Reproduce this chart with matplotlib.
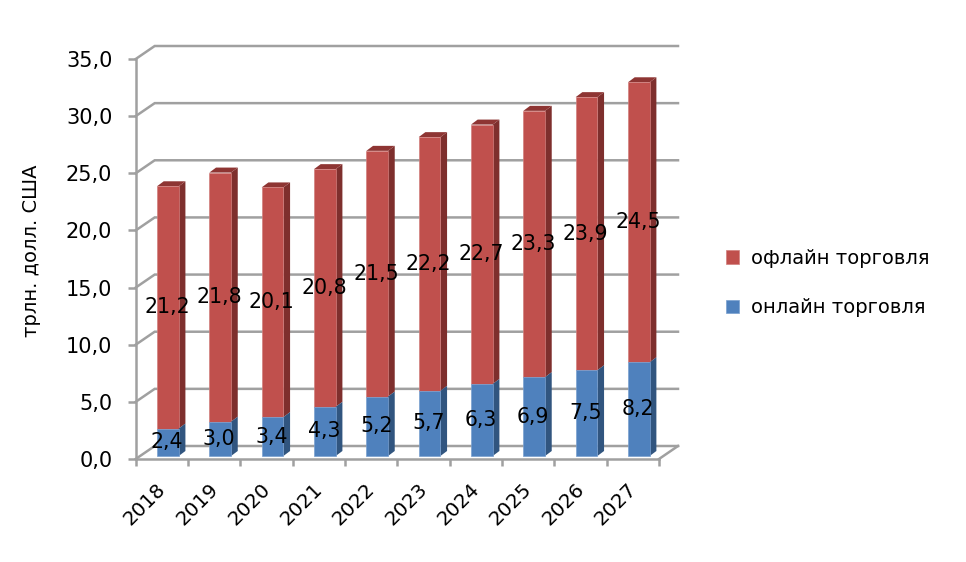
import matplotlib
matplotlib.use("Agg")
import matplotlib.pyplot as plt
from matplotlib.patches import Polygon, Patch
from matplotlib.ticker import FuncFormatter
from matplotlib.transforms import ScaledTranslation

years = ["2018", "2019", "2020", "2021", "2022", "2023", "2024", "2025", "2026", "2027"]
online = [2.4, 3.0, 3.4, 4.3, 5.2, 5.7, 6.3, 6.9, 7.5, 8.2]
offline = [21.2, 21.8, 20.1, 20.8, 21.5, 22.2, 22.7, 23.3, 23.9, 24.5]
y_ticks = [0, 5, 10, 15, 20, 25, 30, 35]
series_names = ["офлайн торговля", "онлайн торговля"]
ylabel_text = "трлн. долл. США"

W, H = 966, 562
L, R, T, B = 135.7, 659.0, 59.0, 459.0
GRID = "#A0A0A0"
RED = ("#C0504D", "#7E2F2D", "#8E3533", "#D27F7D")
BLUE = ("#4F81BD", "#31557F", "#3D6796", "#79A0D0")

plt.rcParams["font.family"] = "DejaVu Sans"
fig = plt.figure(figsize=(W / 100, H / 100), dpi=100)
ax = fig.add_axes([L / W, 1 - B / H, (R - L) / W, (B - T) / H])
ax.set_xlim(0, len(years))
ax.set_ylim(0, 35)

px_x = len(years) / (R - L)
px_y = 35 / (B - T)
DX, DY = 19 * px_x, 13 * px_y       # wall depth
SX, SY = 6 * px_x, 3 * px_y         # bar shift inside the depth
BDX, BDY = 6.7 * px_x, 5 * px_y     # bar depth
BW = 21.7 * px_x

# walls and gridlines
for v in y_ticks:
    ax.plot([0, DX, len(years) + DX], [v, v + DY, v + DY], color=GRID, lw=1.8,
            clip_on=False, zorder=1, solid_joinstyle="miter")
ax.plot([len(years), len(years) + DX], [0, DY], color=GRID, lw=1.8, clip_on=False, zorder=1)


def draw_bar(x, y0, h, cols, z, top=True):
    x0 = x - BW / 2 + SX
    x1 = x + BW / 2 + SX
    b0 = y0 + SY
    b1 = y0 + h + SY
    ax.add_patch(Polygon([(x1, b0), (x1 + BDX, b0 + BDY), (x1 + BDX, b1 + BDY), (x1, b1)],
                         closed=True, fc=cols[1], ec="none", clip_on=False, zorder=z))
    if top:
        ax.add_patch(Polygon([(x0, b1), (x1, b1), (x1 + BDX, b1 + BDY), (x0 + BDX, b1 + BDY)],
                             closed=True, fc=cols[2], ec="none", clip_on=False, zorder=z))
    ax.bar(x + SX, h, BW, bottom=b0, color=cols[0], edgecolor=cols[3], linewidth=0.5,
           clip_on=False, zorder=z + 0.1)


for i, (a, b) in enumerate(zip(online, offline)):
    xc = i + 0.5
    draw_bar(xc, a, b, RED, 3)
    draw_bar(xc, 0, a, BLUE, 3.5, top=False)
    ax.text(xc + SX - 1 * px_x, SY + a / 2, f"{a:.1f}".replace(".", ","), ha="center",
            va="center", fontsize=14.8, zorder=6)
    ax.text(xc + SX - 1 * px_x, SY + a + b / 2, f"{b:.1f}".replace(".", ","), ha="center",
            va="center", fontsize=14.8, zorder=6)

# axes
for s in ["top", "right"]:
    ax.spines[s].set_visible(False)
for s in ["left", "bottom"]:
    ax.spines[s].set_color(GRID)
    ax.spines[s].set_linewidth(1.8)
    ax.spines[s].set_zorder(2)
ax.set_yticks(y_ticks)
ax.yaxis.set_major_formatter(FuncFormatter(lambda v, _: f"{v:.1f}".replace(".", ",")))
ax.tick_params(axis="y", length=5.8, width=1.8, color=GRID, labelsize=15, pad=11)
ax.set_xticks(range(len(years) + 1))
ax.set_xticklabels([])
ax.tick_params(axis="x", which="major", length=5, width=1.8, color=GRID)
ax.set_xticks([i + 0.5 for i in range(len(years))], minor=True)
ax.set_xticklabels(years, minor=True, rotation=45, ha="right", va="top",
                   rotation_mode="anchor", fontsize=14.3)
ax.tick_params(axis="x", which="minor", length=0, pad=15)
shift = ScaledTranslation(-6 / 100, 0, fig.dpi_scale_trans)
for lab in ax.get_xticklabels(minor=True):
    lab.set_transform(lab.get_transform() + shift)

ax.set_ylabel(ylabel_text, fontsize=14)
ax.yaxis.set_label_coords((41 - L) / (R - L), (B - 251) / (B - T))

handles = [Patch(fc=RED[0], ec=RED[3], lw=0.5), Patch(fc=BLUE[0], ec=BLUE[3], lw=0.5)]
fig.legend(handles, series_names, frameon=False, fontsize=14.0,
           loc="center left", bbox_to_anchor=(726 / W, 1 - 283 / H),
           handlelength=0.68, handleheight=0.68, handletextpad=0.62, labelspacing=1.55,
           borderpad=0, borderaxespad=0)

fig.savefig("out.png", dpi=100)
